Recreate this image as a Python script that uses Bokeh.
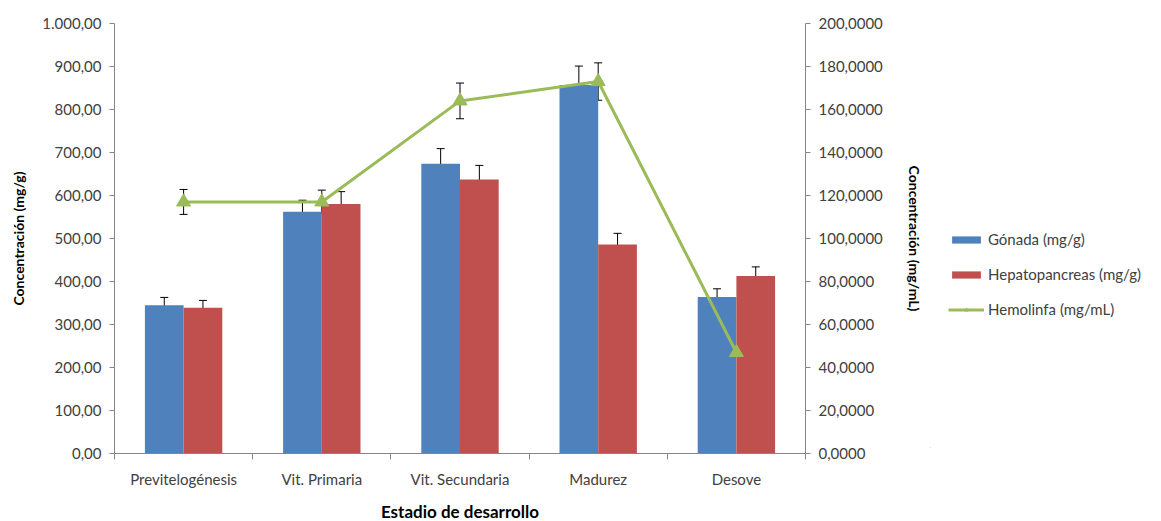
import numpy as np
from bokeh.plotting import figure
from bokeh.layouts import row
from bokeh.models import (Range1d, LinearAxis, FixedTicker, CustomJSTickFormatter,
                          ColumnDataSource, Whisker, TeeHead, Legend, LegendItem)
from bokeh.embed import file_html
from bokeh.resources import INLINE

categories = ["Previtelogénesis", "Vit. Primaria", "Vit. Secundaria", "Madurez", "Desove"]
gonada = [345, 562, 674, 857, 364]
gonada_err = [18, 27, 35, 44, 19]
hepato = [339, 580, 637, 486, 413]
hepato_err = [17, 29, 33, 26, 21]
hemo = [117, 117, 164, 173, 47]
hemo_err = [5.8, 5.5, 8.3, 8.7, 1.5]
series_names = ["Gónada (mg/g)", "Hepatopancreas (mg/g)", "Hemolinfa (mg/mL)"]

FONT = "Lato"
AX_COL = "#868686"
TXT_COL = "#404040"
BLUE, RED, GREEN = "#4F81BD", "#C0504D", "#9BBB59"

xc = np.arange(len(categories)) + 0.5
bw = 0.28

src = ColumnDataSource(dict(
    xg=xc - bw / 2, xh=xc + bw / 2, xc=xc,
    g=gonada, gl=np.array(gonada) - np.array(gonada_err), gu=np.array(gonada) + np.array(gonada_err),
    h=hepato, hl=np.array(hepato) - np.array(hepato_err), hu=np.array(hepato) + np.array(hepato_err),
    m=hemo, ml=np.array(hemo) - np.array(hemo_err), mu=np.array(hemo) + np.array(hemo_err),
))

p = figure(frame_width=691, frame_height=430, output_backend="svg", toolbar_location=None,
           x_range=Range1d(0, len(categories)), y_range=Range1d(0, 1000),
           min_border_left=114, min_border_right=125, min_border_top=23, min_border_bottom=65)
p.outline_line_color = None
p.xgrid.visible = False
p.ygrid.visible = False
p.extra_y_ranges = {"hemo": Range1d(0, 200)}

p.vbar(x="xg", top="g", width=bw, source=src, fill_color=BLUE, line_color=None)
p.vbar(x="xh", top="h", width=bw, source=src, fill_color=RED, line_color=None)
p.line(x="xc", y="m", source=src, y_range_name="hemo", line_color=GREEN, line_width=3)
p.scatter(x="xc", y="m", source=src, y_range_name="hemo", marker="triangle", size=14,
          fill_color=GREEN, line_color=GREEN)

for xcol, lo, up, yr in [("xg", "gl", "gu", "default"), ("xh", "hl", "hu", "default"),
                         ("xc", "ml", "mu", "hemo")]:
    w = Whisker(base=xcol, lower=lo, upper=up, source=src, dimension="height",
                line_color="black", line_width=1, y_range_name=yr,
                upper_head=TeeHead(size=8, line_color="black", line_width=1),
                lower_head=TeeHead(size=8, line_color="black", line_width=1))
    p.add_layout(w)

def style_axis(ax):
    ax.axis_line_color = AX_COL
    ax.major_tick_line_color = AX_COL
    ax.minor_tick_line_color = AX_COL
    ax.major_tick_out = 5
    ax.major_tick_in = 0
    ax.minor_tick_out = 0
    ax.minor_tick_in = 0
    ax.major_label_text_font = FONT
    ax.major_label_text_font_size = "15px"
    ax.major_label_text_color = TXT_COL
    ax.axis_label_text_font = FONT
    ax.axis_label_text_font_style = "bold"
    ax.axis_label_text_color = "black"

# x axis
xa = p.xaxis[0]
style_axis(xa)
xa.ticker = FixedTicker(ticks=list(xc), minor_ticks=list(np.arange(len(categories) + 1)))
xa.major_label_overrides = {float(x): c for x, c in zip(xc, categories)}
xa.major_tick_line_color = None
xa.minor_tick_out = 6
xa.major_label_standoff = 10
xa.axis_label = "Estadio de desarrollo"
xa.axis_label_text_font_size = "17px"
xa.axis_label_standoff = 10

# left axis
ya = p.yaxis[0]
style_axis(ya)
ya.ticker = FixedTicker(ticks=list(range(0, 1001, 100)))
ya.formatter = CustomJSTickFormatter(code="""
    const s = tick.toFixed(2);
    let [i, d] = s.split('.');
    i = i.replace(/\\B(?=(\\d{3})+(?!\\d))/g, '.');
    return i + ',' + d;
""")
ya.axis_label = "Concentración (mg/g)"
ya.axis_label_text_font_size = "14px"
ya.major_label_standoff = 8
ya.axis_label_standoff = 12

# right axis
ra = LinearAxis(y_range_name="hemo")
style_axis(ra)
ra.ticker = FixedTicker(ticks=list(range(0, 201, 20)))
ra.formatter = CustomJSTickFormatter(code="return tick.toFixed(4).replace('.', ',');")
ra.axis_label = "Concentración (mg/mL)"
ra.axis_label_text_font_size = "14px"
ra.major_label_standoff = 8
ra.axis_label_standoff = 20
p.add_layout(ra, "right")

# legend panel (separate small figure; its proxy glyphs sit outside its visible range)
lf = figure(width=225, height=518, output_backend="svg", toolbar_location=None,
            x_range=Range1d(0, 1), y_range=Range1d(0, 1),
            min_border=0, x_axis_type=None, y_axis_type=None)
lf.outline_line_color = None
lf.xgrid.visible = False
lf.ygrid.visible = False
proxy = ColumnDataSource(dict(x=[-10, -11], y=[-10, -11]))
lg = lf.vbar(x="x", top="y", width=0.1, source=proxy, fill_color=BLUE, line_color=None)
lh = lf.vbar(x="x", top="y", width=0.1, source=proxy, fill_color=RED, line_color=None)
ll = lf.line(x="x", y="y", source=proxy, line_color=GREEN, line_width=3)
lm = lf.scatter(x="x", y="y", source=proxy, marker="triangle", size=14,
                fill_color=GREEN, line_color=GREEN)

legend = Legend(items=[
    LegendItem(label=series_names[0], renderers=[lg]),
    LegendItem(label=series_names[1], renderers=[lh]),
    LegendItem(label=series_names[2], renderers=[ll, lm]),
], location=(18, 128))
legend.border_line_color = None
legend.background_fill_alpha = 0
legend.label_text_font = FONT
legend.label_text_font_size = "15px"
legend.label_text_color = TXT_COL
legend.glyph_width = 36
legend.glyph_height = 9
legend.label_height = 20
legend.spacing = 15
legend.label_standoff = 4
legend.padding = 0
legend.margin = 0
lf.add_layout(legend, "center")

layout = row(p, lf, spacing=0)
open("out.html", "w").write(file_html(layout, INLINE))
